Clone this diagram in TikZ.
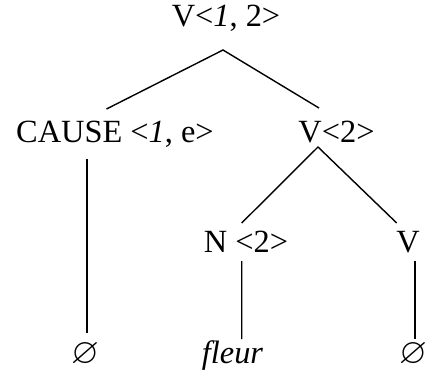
\documentclass[tikz,border=0pt]{standalone}
\usepackage{amsmath,amssymb}
\usepackage{fontspec}
\setmainfont{Liberation Serif}
\usetikzlibrary{calc}
\tikzset{
  label/.style={font=\fontsize{32.5}{38}\selectfont,inner sep=0pt,anchor=base},
  nulllabel/.style={font=\fontsize{36}{42}\selectfont,inner sep=0pt,anchor=center},
  branch/.style={draw=black,line width=1.4bp}
}
\begin{document}
\begin{tikzpicture}[x=1bp,y=-1bp]
\path[use as bounding box] (0,0) rectangle (428,374);
% labels
\node[label] (root) at (226,26) {V<\textit{1}, 2>};
\node[label] (cause) at (115,142) {CAUSE <\textit{1}, e>};
\node[label] (vtwo) at (336.5,142) {V<2>};
\node[label] (noun) at (246,252) {N <2>};
\node[label] (vhead) at (408,252) {V};
\node[nulllabel] (nulla) at (85,355) {$\varnothing$};
\node[label] (fleur) at (232.5,363) {\textit{fleur}};
\node[nulllabel] (nullb) at (413,355) {$\varnothing$};
% branches
\draw[branch] ($(cause.base)+(-8.5,-33)$) -- ($(root.base)+(-3,24)$) -- ($(vtwo.base)+(-17.5,-34)$);
\draw[branch] ($(noun.base)+(-4.3,-29)$) -- ($(vtwo.base)+(-18.5,5)$) -- ($(vhead.base)+(-11.3,-29)$);
\draw[branch] ($(cause.base)+(-28,17)$) -- ($(nulla.center)+(2,-22)$);
\draw[branch] ($(noun.base)+(-4.3,9)$) -- ($(fleur.base)+(9.2,-24)$);
\draw[branch] ($(vhead.base)+(7,9)$) -- ($(nullb.center)+(2,-16)$);
\end{tikzpicture}
\end{document}
